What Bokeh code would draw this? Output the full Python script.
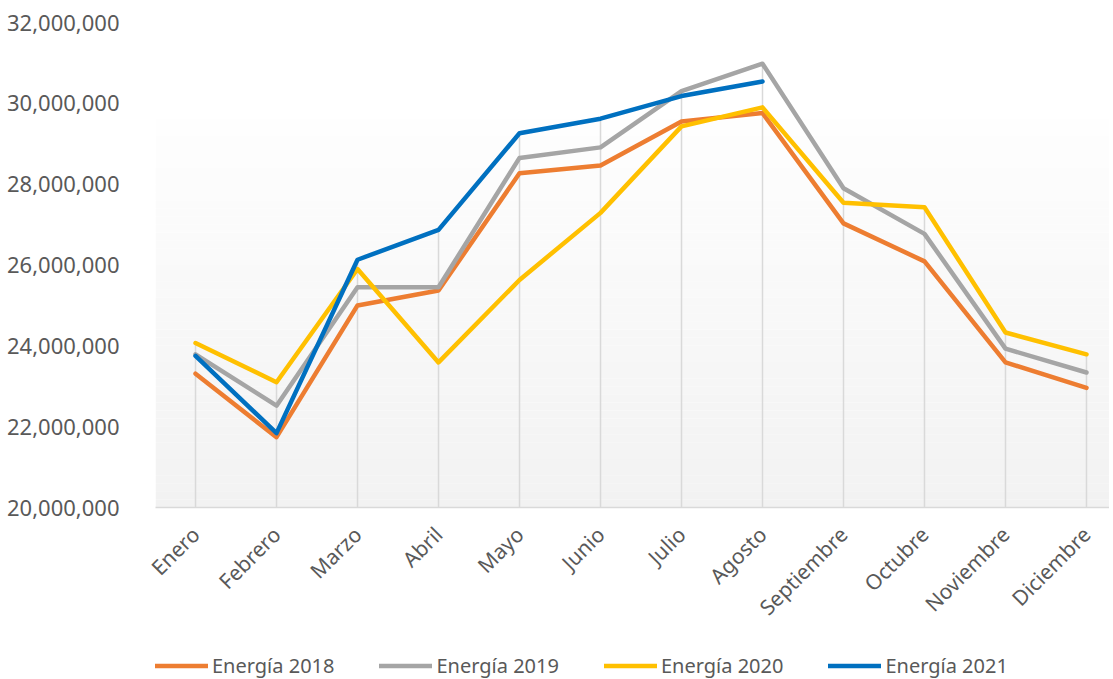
import numpy as np
from bokeh.plotting import figure
from bokeh.layouts import column
from bokeh.models import (Range1d, FixedTicker, NumeralTickFormatter, Legend, LegendItem)
from bokeh.embed import file_html
from bokeh.resources import INLINE

# ---------------- data ----------------
months = ["Enero", "Febrero", "Marzo", "Abril", "Mayo", "Junio", "Julio", "Agosto",
          "Septiembre", "Octubre", "Noviembre", "Diciembre"]
energia_2018 = [23310000, 21740000, 25000000, 25370000, 28270000, 28460000, 29550000, 29760000,
                27030000, 26090000, 23590000, 22960000]
energia_2019 = [23790000, 22520000, 25450000, 25450000, 28650000, 28910000, 30300000, 30980000,
                27900000, 26770000, 23930000, 23340000]
energia_2020 = [24070000, 23100000, 25900000, 23590000, 25630000, 27290000, 29430000, 29900000,
                27540000, 27430000, 24330000, 23790000]
energia_2021 = [23750000, 21840000, 26130000, 26870000, 29260000, 29620000, 30180000, 30540000]
y_ticks = [20000000, 22000000, 24000000, 26000000, 28000000, 30000000, 32000000]
series_names = ["Energía 2018", "Energía 2019", "Energía 2020", "Energía 2021"]
series_colors = ["#ED7D31", "#A5A5A5", "#FFC000", "#0070C0"]

FONT = "Noto Sans"
TXT = "#595959"
LW = 4.5

x_all = list(range(len(months)))
y_min, y_max = y_ticks[0], y_ticks[-1]
x_lo, x_hi = -0.494, 11.284

p = figure(width=1109, height=648, output_backend="svg", toolbar_location=None,
           x_range=Range1d(x_lo, x_hi), y_range=Range1d(y_min, y_max),
           min_border_left=155, min_border_right=0, min_border_top=22, min_border_bottom=141)
p.outline_line_color = None
p.background_fill_color = "white"
p.border_fill_color = "white"
p.xgrid.visible = False
p.ygrid.visible = False

# ---- plot-area gradient (decoration) ----
g_top = 29600000
n = 48
edges = np.linspace(y_min, g_top, n + 1)
cols = []
for i in range(n):
    t = i / (n - 1)  # 0 bottom -> 1 top
    c = int(round(242 + (254 - 242) * t))
    cols.append("#%02x%02x%02x" % (c, c, c))
p.quad(left=[x_lo] * n, right=[x_hi] * n, bottom=list(edges[:-1]), top=list(edges[1:]),
       fill_color=cols, line_color=None)

# ---- drop lines (from highest point to axis) ----
stack = np.full((4, len(months)), np.nan)
for i, s in enumerate([energia_2018, energia_2019, energia_2020, energia_2021]):
    stack[i, :len(s)] = s
tops = np.nanmax(stack, axis=0)
p.segment(x0=x_all, y0=[y_min] * len(months), x1=x_all, y1=list(tops),
          line_color="#D9D9D9", line_width=1.5)

# ---- series ----
for s, c in zip([energia_2018, energia_2019, energia_2020, energia_2021], series_colors):
    p.line(x=x_all[:len(s)], y=s, line_color=c, line_width=LW,
           line_join="round", line_cap="round")

# ---- axes ----
p.xaxis.ticker = FixedTicker(ticks=x_all)
p.xaxis.major_label_overrides = {i: m for i, m in enumerate(months)}
p.xaxis.major_label_orientation = np.pi / 4
p.xaxis.major_label_text_font = FONT
p.xaxis.major_label_text_font_size = "21px"
p.xaxis.major_label_text_color = TXT
p.xaxis.major_label_standoff = 17
p.xaxis.axis_line_color = "#D9D9D9"
p.xaxis.axis_line_width = 1.5
p.xaxis.major_tick_line_color = None
p.xaxis.minor_tick_line_color = None

p.yaxis.ticker = FixedTicker(ticks=y_ticks)
p.yaxis.formatter = NumeralTickFormatter(format="0,0")
p.yaxis.major_label_text_font = FONT
p.yaxis.major_label_text_font_size = "22px"
p.yaxis.major_label_text_color = TXT
p.yaxis.major_label_standoff = 30
p.yaxis.axis_line_color = None
p.yaxis.major_tick_line_color = None
p.yaxis.minor_tick_line_color = None

# ---- legend strip (swatch lines sit outside the strip's visible range) ----
lg = figure(width=1109, height=31, output_backend="svg", toolbar_location=None,
            x_range=Range1d(0, 1), y_range=Range1d(0, 1),
            x_axis_type=None, y_axis_type=None,
            min_border_left=155, min_border_right=0, min_border_top=0, min_border_bottom=0)
lg.outline_line_color = None
lg.xgrid.visible = False
lg.ygrid.visible = False
swatches = [lg.line(x=[5, 6], y=[5, 6], line_color=c, line_width=LW, line_cap="round")
            for c in series_colors]
legend = Legend(items=[LegendItem(label=nm, renderers=[r]) for nm, r in zip(series_names, swatches)],
                orientation="horizontal", location=(0, 0),
                glyph_width=53, glyph_height=23, label_height=23, label_standoff=4,
                spacing=45, padding=0, margin=0,
                border_line_color=None, background_fill_alpha=0,
                label_text_font=FONT, label_text_font_size="20px", label_text_color=TXT)
lg.add_layout(legend, "center")

open("out.html", "w").write(file_html(column(p, lg, spacing=0), INLINE))
